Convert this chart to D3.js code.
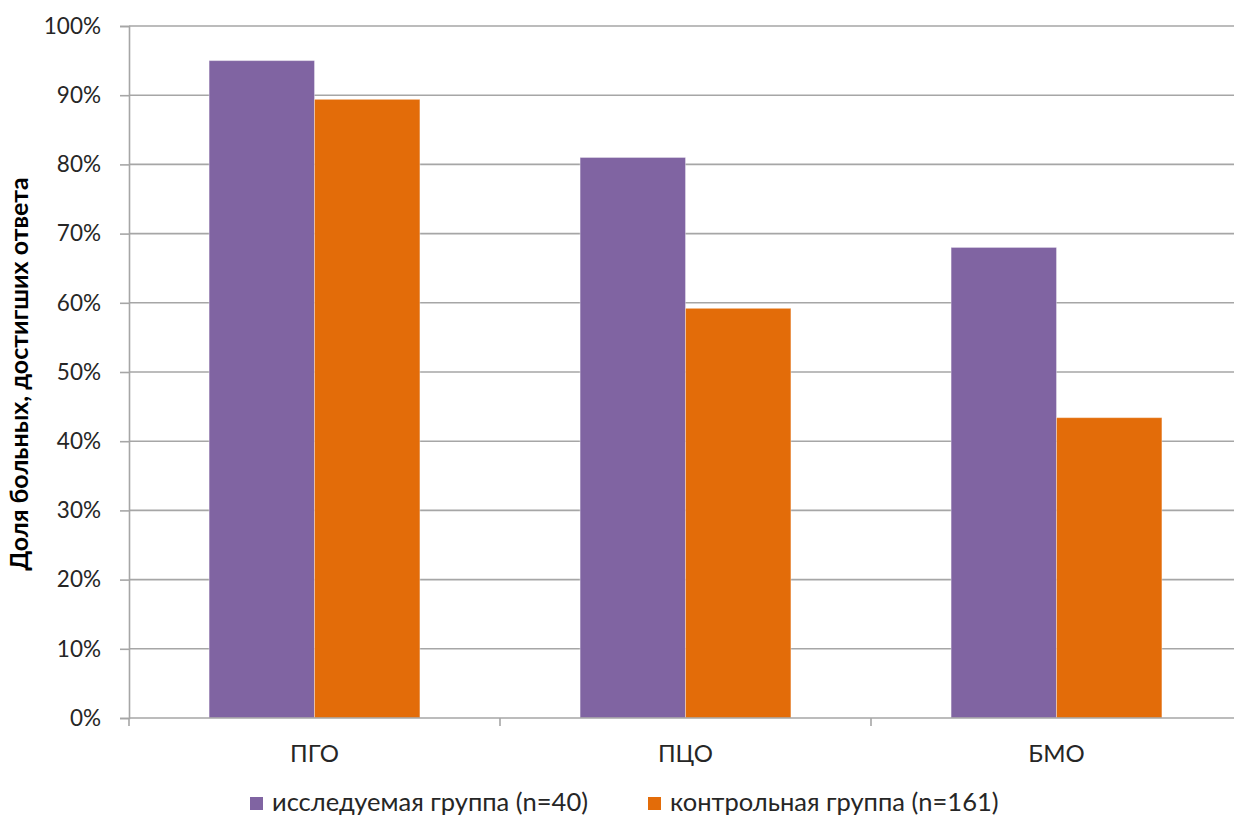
<!DOCTYPE html>
<html>
<head>
<meta charset="utf-8">
<script src="https://cdn.jsdelivr.net/npm/d3@7"></script>
<style>
  html, body { margin: 0; padding: 0; background: #fff; }
  svg { display: block; font-family: Lato, "Open Sans", sans-serif; }
</style>
</head>
<body>
<svg id="chart" width="1234" height="817"></svg>
<script>
// Share of patients who reached a response, by treatment group
const categories = ["ПГО", "ПЦО", "БМО"];
const seriesNames = ["исследуемая группа (n=40)", "контрольная группа (n=161)"];
const studyValues = [95, 81, 68];
const controlValues = [89.4, 59.2, 43.4];
const tickValues = [0, 10, 20, 30, 40, 50, 60, 70, 80, 90, 100];
const colors = ["#8064A2", "#E36C09"];
const yTitle = "Доля больных, достигших ответа";

const svg = d3.select("#chart");
const W = 1234, H = 817;
const x0 = 129, x1 = 1242;
const yTop = 26, yBot = 718;
const gridColor = "#a6a6a6";
const textColor = "#262626";

const x = d3.scaleBand().domain(categories).range([x0, x1]).paddingInner(0).paddingOuter(0);
const xs = d3.scaleBand().domain([0, 1]).range([0, x.bandwidth()]).paddingInner(0).paddingOuter(0.76);
const y = d3.scaleLinear().domain([0, 100]).range([yBot, yTop]);

// horizontal gridlines
svg.append("g")
  .selectAll("line")
  .data(tickValues.filter(d => d > 0))
  .join("line")
  .attr("x1", x0).attr("x2", W)
  .attr("y1", d => y(d)).attr("y2", d => y(d))
  .attr("stroke", gridColor).attr("stroke-width", 1.6);

// y axis
const yAxis = d3.axisLeft(y).tickValues(tickValues).tickSize(9).tickPadding(19)
  .tickFormat(d => d + "%");
const gy = svg.append("g").attr("transform", `translate(${x0},0)`).call(yAxis);
gy.select(".domain").attr("stroke", gridColor).attr("stroke-width", 1.6);
gy.selectAll(".tick line").attr("stroke", gridColor).attr("stroke-width", 1.6);
gy.selectAll(".tick text").attr("font-size", 22.5).attr("fill", textColor)
  .attr("font-family", "Lato, 'Open Sans', sans-serif");

// bars
[studyValues, controlValues].forEach((vals, si) => {
  svg.append("g")
    .selectAll("rect")
    .data(categories.map((c, i) => ({ c, v: vals[i] })))
    .join("rect")
    .attr("x", d => x(d.c) + xs(si))
    .attr("width", xs.bandwidth())
    .attr("y", d => y(d.v))
    .attr("height", d => yBot - y(d.v))
    .attr("fill", colors[si])
    .attr("stroke", "rgba(255,255,255,0.35)")
    .attr("stroke-width", 1);
});

// x axis
const xAxis = d3.axisBottom(x).tickSize(0).tickPadding(27);
const gx = svg.append("g").attr("transform", `translate(0,${yBot})`).call(xAxis);
gx.select(".domain").remove();
gx.selectAll(".tick text").attr("font-size", 24).attr("fill", textColor)
  .attr("font-family", "Lato, 'Open Sans', sans-serif");
svg.append("line").attr("x1", x0).attr("x2", W).attr("y1", yBot).attr("y2", yBot)
  .attr("stroke", gridColor).attr("stroke-width", 1.6);
// category boundary ticks
svg.append("g").selectAll("line")
  .data(categories.map(c => x(c)))
  .join("line")
  .attr("x1", d => d).attr("x2", d => d)
  .attr("y1", yBot).attr("y2", yBot + 8)
  .attr("stroke", gridColor).attr("stroke-width", 1.6);

// y axis title
svg.append("text")
  .attr("transform", `translate(28,374) rotate(-90)`)
  .attr("text-anchor", "middle")
  .attr("font-size", 25).attr("font-weight", "bold").attr("fill", "#000")
  .text(yTitle);

// legend
const legendX = [250, 648];
const lg = svg.append("g");
seriesNames.forEach((name, i) => {
  lg.append("rect").attr("x", legendX[i]).attr("y", 797).attr("width", 13).attr("height", 13)
    .attr("fill", colors[i]);
  lg.append("text").attr("x", legendX[i] + 22).attr("y", 811)
    .attr("font-size", 25.5).attr("fill", textColor).text(name);
});
</script>
</body>
</html>
